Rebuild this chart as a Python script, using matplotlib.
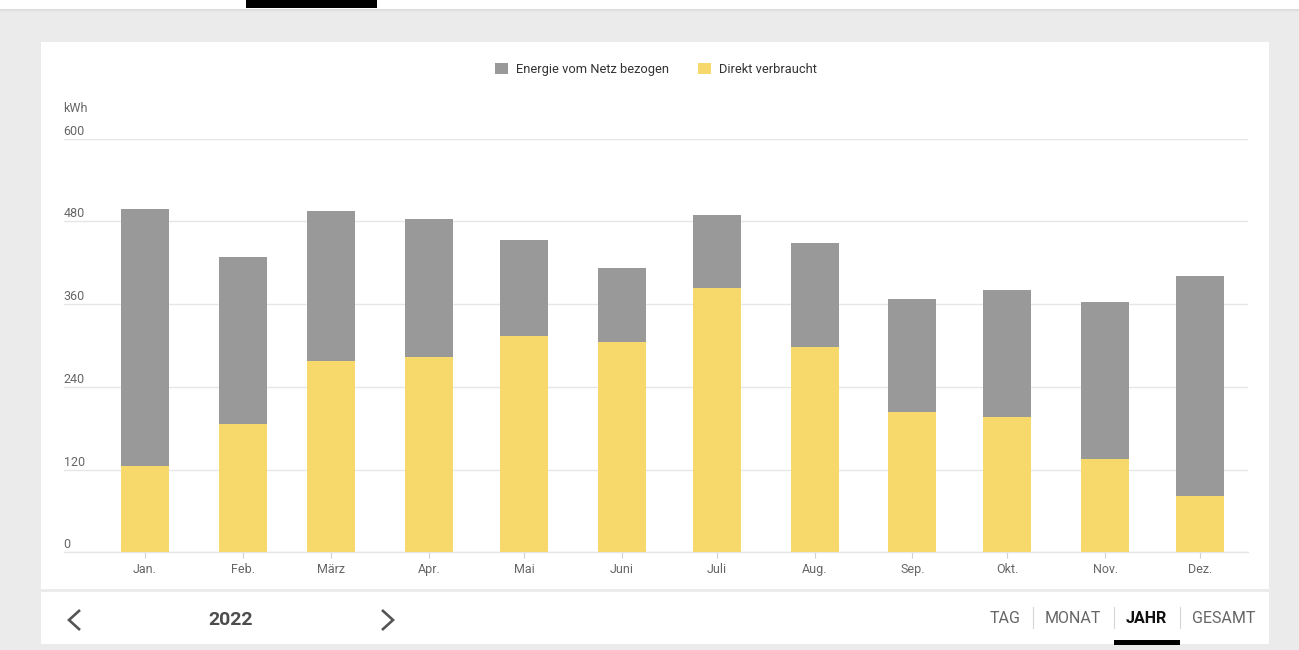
import matplotlib
matplotlib.use("Agg")
import matplotlib.pyplot as plt
import matplotlib.dates as mdates
from matplotlib.patches import Rectangle, Patch
from matplotlib.lines import Line2D
from matplotlib.transforms import Affine2D, ScaledTranslation
import numpy as np

plt.rcParams['font.family'] = ['Roboto', 'DejaVu Sans']

# ---------------- data ----------------
months = ["Jan.", "Feb.", "März", "Apr.", "Mai", "Juni", "Juli", "Aug.", "Sep.", "Okt.", "Nov.", "Dez."]
month_dates = ["2022-01-01", "2022-02-01", "2022-03-01", "2022-04-01", "2022-05-01", "2022-06-01",
               "2022-07-01", "2022-08-01", "2022-09-01", "2022-10-01", "2022-11-01", "2022-12-01"]
direct_kwh = [125, 186, 278, 284, 314, 305, 383, 298, 203, 196, 135, 82]
grid_kwh = [373, 243, 217, 200, 139, 108, 106, 151, 164, 184, 228, 319]
yticks = [0, 120, 240, 360, 480, 600]
series_names = ["Energie vom Netz bezogen", "Direkt verbraucht"]
year_label = "2022"
tabs = ["TAG", "MONAT", "JAHR", "GESAMT"]

# ---------------- figure ----------------
W, H = 1299, 650
fig = plt.figure(figsize=(W / 100, H / 100), dpi=100)
fig.patch.set_facecolor("#ebebeb")
pix = Affine2D().scale(1 / W, -1 / H).translate(0, 1) + fig.transFigure

def rect(x0, y0, x1, y1, color, z=-2):
    fig.patches.append(Rectangle((x0, y0), x1 - x0, y1 - y0, transform=pix,
                                 facecolor=color, edgecolor="none", zorder=z))

# top white strip with shadow + active indicator
rect(0, 0, W, 9, "#ffffff")
for i, c in enumerate(["#dcdcdc", "#e2e2e2", "#e7e7e7"]):
    rect(0, 9 + i, W, 10 + i, c)
rect(246, 0, 377, 8, "#000000", z=-1)

# cards
rect(41.5, 42, 1269.5, 589, "#ffffff")
rect(41.5, 592, 1269.5, 644, "#ffffff")

# ---------------- chart ----------------
x0p, x1p, y0p, y1p = 63.7, 1247.6, 138.7, 552.3
ax = fig.add_axes([x0p / W, 1 - y1p / H, (x1p - x0p) / W, (y1p - y0p) / H])
ax.set_facecolor("none")
ax.set_zorder(1)

xd = mdates.datestr2num(month_dates)
ax.bar(xd, direct_kwh, width=15.2, color="#f7d96b", zorder=3)
ax.bar(xd, grid_kwh, width=15.2, bottom=direct_kwh, color="#999999", zorder=3)

ax.set_xlim(xd[0] - 25.7, xd[-1] + 15.1)
ax.set_ylim(0, 600)
ax.set_yticks(yticks)
ax.set_yticklabels([str(v) for v in yticks])
ax.yaxis.grid(True, color="#e6e6e6", linewidth=1)
ax.set_axisbelow(True)
ax.tick_params(axis="y", length=0, pad=0, labelsize=9, labelcolor="#666666")
offset = ScaledTranslation(0, 1 / 100, fig.dpi_scale_trans)
for lab in ax.get_yticklabels():
    lab.set_horizontalalignment("left")
    lab.set_verticalalignment("bottom")
    lab.set_transform(lab.get_transform() + offset)

ax.set_xticks(xd)
ax.set_xticklabels(months)
ax.tick_params(axis="x", length=4, width=0.8, color="#d0d0d0", pad=4,
               labelsize=9, labelcolor="#666666")
for s in ["top", "right", "left"]:
    ax.spines[s].set_visible(False)
ax.spines["bottom"].set_color("#e6e6e6")
ax.spines["bottom"].set_linewidth(1)

fig.text(63.5 / W, 1 - 108 / H, "kWh", ha="left", va="center", fontsize=9, color="#666666")

# legend
handles = [Patch(facecolor="#999999", edgecolor="none"),
           Patch(facecolor="#f7d96b", edgecolor="none")]
fig.legend(handles, series_names, loc="center", bbox_to_anchor=(656 / W, 1 - 69.5 / H),
           ncol=2, frameon=False, fontsize=9.3, handlelength=1.0, handleheight=1.0,
           handletextpad=0.6, columnspacing=2.3, labelcolor="#333333")

# ---------------- bottom navigation ----------------
fig.lines.append(Line2D([80, 69, 80], [610, 620, 630], transform=pix, color="#555555",
                        linewidth=1.9, solid_joinstyle="miter", solid_capstyle="butt"))
fig.lines.append(Line2D([382, 393, 382], [610, 620, 630], transform=pix, color="#555555",
                        linewidth=1.9, solid_joinstyle="miter", solid_capstyle="butt"))
fig.text(231 / W, 1 - 620 / H, year_label, ha="center", va="center", fontsize=14,
         fontweight="bold", color="#4d4d4d")

tab_x = [1005, 1073, 1146, 1224]
for name, xc in zip(tabs, tab_x):
    active = name == "JAHR"
    fig.text(xc / W, 1 - 618.5 / H, name, ha="center", va="center", fontsize=11.5,
             fontweight="bold" if active else "normal",
             color="#111111" if active else "#666666")
for xs in [1033, 1114.5, 1180.5]:
    fig.lines.append(Line2D([xs, xs], [607, 628], transform=pix, color="#d6d6d6", linewidth=0.8))
rect(1114, 640, 1180, 644.5, "#000000", z=-1)

fig.savefig("out.png", dpi=100, facecolor=fig.get_facecolor())
